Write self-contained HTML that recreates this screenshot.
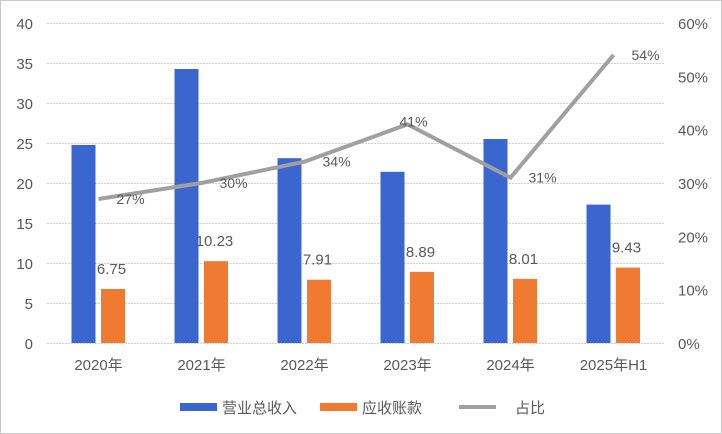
<!DOCTYPE html>
<html><head><meta charset="utf-8"><style>
body{margin:0;background:#fff}
svg{display:block;font-family:"Liberation Sans","Noto Sans CJK SC",sans-serif}
</style></head><body>
<svg id="chart" width="722" height="434">
<rect x="0.5" y="0.5" width="721" height="433" fill="#fff" stroke="#c8c8c8"/>
<g id="grid"></g><g id="bars"></g><g id="line"></g><g id="labels"></g>
<g font-size="15" fill="#595959">
<rect x="180" y="403" width="37" height="8" fill="#3b66cf"/>
<text x="222" y="413">营业总收入</text>
<rect x="320" y="403" width="37" height="8" fill="#f07a32"/>
<text x="362" y="413">应收账款</text>
<line x1="459" y1="407" x2="496" y2="407" stroke="#a0a0a0" stroke-width="4"/>
<text x="515" y="413">占比</text>
</g>
</svg>
<script>
const categories=["2020年","2021年","2022年","2023年","2024年","2025年H1"];
const revenue=[24.75,34.25,23.1,21.4,25.5,17.3];
const receivables=[6.75,10.23,7.91,8.89,8.01,9.43];
const ratio=[27,30,34,41,31,54];
const leftTicks=[0,5,10,15,20,25,30,35,40];
const rightTicks=["0%","10%","20%","30%","40%","50%","60%"];
const NS="http://www.w3.org/2000/svg";
const L=47,R=665,T=23,B=343;
const bw=(R-L)/categories.length;
const y=v=>B-(v/40)*(B-T);
const y2=p=>B-(p/60)*(B-T);
const xc=i=>L+bw*(i+0.5);
function mk(tag,attrs,parent,txt){const e=document.createElementNS(NS,tag);for(const k in attrs)e.setAttribute(k,attrs[k]);if(txt!=null)e.textContent=txt;document.getElementById(parent).appendChild(e);return e;}
leftTicks.forEach(v=>{
 const g=mk('line',{x1:L,x2:R,y1:y(v)+0.5,y2:y(v)+0.5,stroke:'#d0d0d0','stroke-dasharray':'2,1'},'grid');
 
 
 const t=mk('text',{x:33,y:y(v)+6,'text-anchor':'end','font-size':15,fill:'#595959'},'grid',v);
 
 
});
rightTicks.forEach((s,i)=>{
 const t=mk('text',{x:678,y:y2(i*10)+6,'font-size':15,fill:'#595959'},'grid',s);
 
 
});
categories.forEach((c,i)=>{
 const t=mk('text',{x:xc(i),y:370,'text-anchor':'middle','font-size':15,fill:'#595959'},'grid',c);
 
 
 const b1=mk('rect',{x:xc(i)-27,y:y(revenue[i]),width:24,height:B-y(revenue[i]),fill:'#3b66cf'},'bars');
 
 
 const b2=mk('rect',{x:xc(i)+2.5,y:y(receivables[i]),width:24,height:B-y(receivables[i]),fill:'#f07a32'},'bars');
 
 
 const l=mk('text',{x:xc(i)+13,y:y(receivables[i])-15,'text-anchor':'middle','font-size':15,fill:'#595959'},'labels',receivables[i].toFixed(2));
 
 
 const dx=i===3?-8:18, dy=i===3?2:5;
 const p=mk('text',{x:xc(i)+dx,y:y2(ratio[i])+dy,'font-size':14,fill:'#595959'},'labels',ratio[i]+'%');
 
 
});
const pts=ratio.map((p,i)=>xc(i)+','+y2(p)).join(' ');
const pl=mk('polyline',{points:pts,fill:'none',stroke:'#a0a0a0','stroke-width':4},'line');


</script>
</body></html>
